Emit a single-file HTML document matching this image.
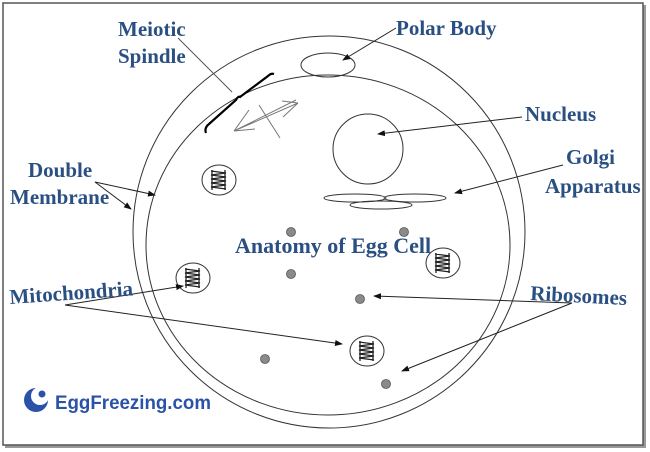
<!DOCTYPE html>
<html><head><meta charset="utf-8"><style>
html,body{margin:0;padding:0;background:#fff;width:650px;height:452px;overflow:hidden}
svg{display:block}
.t{font-family:"Liberation Serif",serif;font-weight:bold;fill:#2a4f82;font-size:21px}
</style></head><body>
<svg width="650" height="452" viewBox="0 0 650 452" xmlns="http://www.w3.org/2000/svg">
<defs>
<marker id="a" markerWidth="8" markerHeight="8" refX="7" refY="4" orient="auto" markerUnits="userSpaceOnUse"><path d="M0,1 L8,4 L0,7 Z" fill="#111"/></marker>
</defs>
<rect x="5" y="5" width="641" height="443" fill="#999"/>
<rect x="3" y="3" width="640" height="442" fill="#fff" stroke="#555" stroke-width="1.5"/>
<g fill="none" stroke="#333" stroke-width="1">
<ellipse cx="329" cy="232" rx="196" ry="196"/>
<ellipse cx="328" cy="245" rx="182" ry="170"/>
<ellipse cx="328" cy="65" rx="27" ry="12"/>
<circle cx="368" cy="149" r="35"/>
<ellipse cx="355" cy="198" rx="31" ry="4"/>
<ellipse cx="415" cy="198" rx="31" ry="4"/>
<ellipse cx="381" cy="205" rx="31" ry="4"/>
<ellipse cx="219" cy="180" rx="17" ry="15"/>
<ellipse cx="193" cy="278" rx="17" ry="15"/>
<ellipse cx="367" cy="351" rx="17" ry="15"/>
<ellipse cx="443" cy="263" rx="17" ry="15"/>
</g>
<g stroke="#222" stroke-width="1.3" fill="none">
<path d="M211,171 l15,2 l-15,2 l15,2 l-15,2 l15,2 l-15,2 l15,2 l-15,2 l15,2 M212,170 v20 M225,170 v20"/>
<path d="M185,269 l15,2 l-15,2 l15,2 l-15,2 l15,2 l-15,2 l15,2 l-15,2 l15,2 M186,268 v20 M199,268 v20"/>
<path d="M359,342 l15,2 l-15,2 l15,2 l-15,2 l15,2 l-15,2 l15,2 l-15,2 l15,2 M360,341 v20 M373,341 v20"/>
<path d="M435,254 l15,2 l-15,2 l15,2 l-15,2 l15,2 l-15,2 l15,2 l-15,2 l15,2 M436,253 v20 M449,253 v20"/>
</g>
<g fill="#8a8a8a" stroke="#555" stroke-width="0.8">
<circle cx="291" cy="232" r="4.5"/><circle cx="404" cy="232" r="4.5"/>
<circle cx="291" cy="274" r="4.5"/><circle cx="360" cy="299" r="4.5"/>
<circle cx="265" cy="359" r="4.5"/><circle cx="386" cy="384" r="4.5"/>
</g>
<path d="M206,133 Q204,128 209,124 L236,100 Q238,96 240,97 L268,76 Q271,73 274,74" fill="none" stroke="#000" stroke-width="2.2"/>
<g stroke="#777" stroke-width="1" fill="none">
<path d="M234,131 L298,103 M236,130 L296,100 M234,131 L249,110 M234,131 L255,129 M298,103 L282,101 M298,103 L283,117 M259,105 L280,138"/>
</g>
<g stroke="#222" stroke-width="1" fill="none" marker-end="url(#a)">
<path d="M396,28 L343,60"/>
<path d="M522,117 L378,134"/>
<path d="M563,165 L455,193"/>
<path d="M95,182 L155,195"/>
<path d="M95,182 L131,209"/>
<path d="M65,305 L183,286"/>
<path d="M65,305 L342,344"/>
<path d="M572,303 L374,296"/>
<path d="M572,303 L402,371"/>
</g>
<path d="M178,38 L232,92" stroke="#555" stroke-width="1"/>
<text class="t" x="118" y="36">Meiotic</text>
<text class="t" x="118" y="63">Spindle</text>
<text class="t" x="396" y="35">Polar Body</text>
<text class="t" x="525" y="121">Nucleus</text>
<text class="t" x="566" y="164">Golgi</text>
<text class="t" x="545" y="193">Apparatus</text>
<text class="t" x="28" y="177">Double</text>
<text class="t" x="10" y="204">Membrane</text>
<text class="t" x="235" y="253" style="font-size:22px">Anatomy of Egg Cell</text>
<text class="t" x="10" y="304" transform="rotate(-4 10 304)">Mitochondria</text>
<text class="t" x="530" y="300" transform="rotate(3 530 300)">Ribosomes</text>
<g>
<circle cx="36" cy="400" r="12" fill="#2a52a8"/>
<circle cx="40" cy="396" r="9" fill="#fff"/>
<circle cx="42" cy="394" r="3.5" fill="#2a52a8"/>
<text x="55" y="409" font-family="'Liberation Sans',sans-serif" font-weight="bold" font-size="19" fill="#2a52a8" textLength="156" lengthAdjust="spacingAndGlyphs">EggFreezing.com</text>
</g>
</svg>
</body></html>
